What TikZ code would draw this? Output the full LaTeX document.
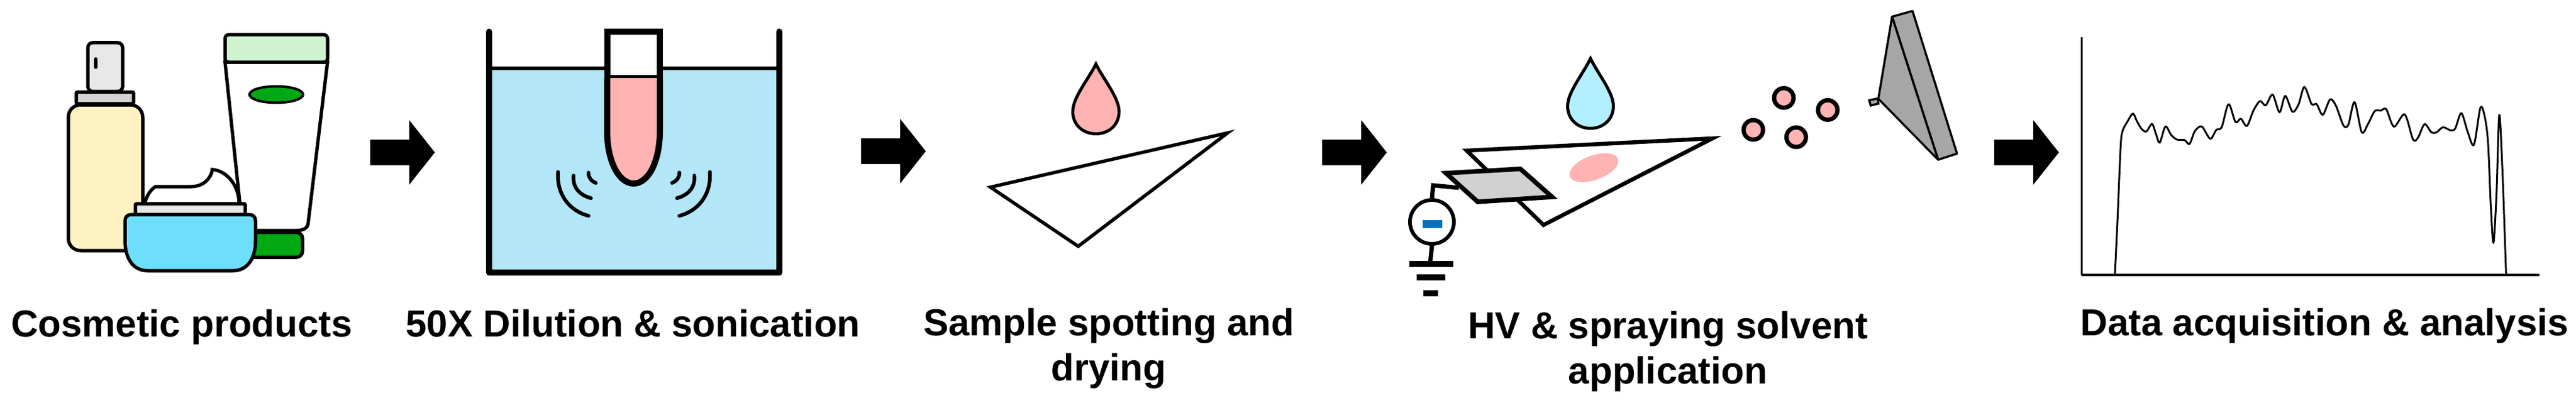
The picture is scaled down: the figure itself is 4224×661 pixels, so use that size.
\documentclass[tikz,border=0pt]{standalone}
\usepackage{fontspec}
\setmainfont{Liberation Sans}
\definecolor{creamyellow}{HTML}{FFF2C2}
\definecolor{lightgreen}{HTML}{CFF2D0}
\definecolor{tubegreen}{HTML}{00A814}
\definecolor{jarblue}{HTML}{6EDFFB}
\definecolor{bathblue}{HTML}{B3E6F7}
\definecolor{dropblue}{HTML}{B3F0FF}
\definecolor{samplepink}{HTML}{FFB3B3}
\definecolor{minusblue}{HTML}{0070C0}
\newcommand{\StepArrow}[2]{%
    \fill [shift={(#1,#2)}] (0,-21) -- (64,-21) -- (64,-53) -- (106,0) -- (64,53) -- (64,21) -- (0,21) -- cycle;%
}
\newcommand{\Drop}[4]{% centre x, tip y, half width, fill
    \draw [outline, line width=5pt, fill=#4] (#1,#2) .. controls (#1-0.32*#3,#2+25) and (#1-#3,#2+55) .. (#1-#3,#2+78)
        .. controls (#1-#3,#2+100) and (#1-0.55*#3,#2+114.5) .. (#1,#2+114.5)
        .. controls (#1+0.55*#3,#2+114.5) and (#1+#3,#2+100) .. (#1+#3,#2+78)
        .. controls (#1+#3,#2+55) and (#1+0.32*#3,#2+25) .. (#1,#2) -- cycle;%
}
\tikzset{
    outline/.style={draw=black, line width=5.5pt},
    steplabel/.style={font=\fontsize{61.8}{74}\selectfont\bfseries, align=center, anchor=base, inner sep=0pt},
    droplet/.style={circle, draw=black, line width=7pt, fill=samplepink, minimum size=32pt, inner sep=0pt},
    wire/.style={draw=black, line width=7pt},
    groundbar/.style={draw=black, line width=10pt},
}

\begin{document}
\begin{tikzpicture}[x=1pt, y=-1pt]
    \useasboundingbox [fill=white] (0,0) rectangle (4224,661);
    % Draw spray bottle
    \draw [outline, fill=black!9, rounded corners=8pt] (144,150) -- (144,70) -- (201,70) -- (201,150) -- cycle; % nozzle
    \draw [outline, line width=6pt, line cap=round] (157,97) -- (157,110); % nozzle slot
    \draw [outline, fill=black!17, rounded corners=2pt] (125,170) -- (125,151) -- (219,151) -- (219,170) -- cycle; % collar
    \draw [outline, fill=creamyellow, rounded corners=20pt] (112,172) rectangle (234,411); % body
    % Draw tube
    \draw [outline, fill=tubegreen, rounded corners=10pt] (410,381) -- (496,381) -- (496,422) -- (410,422); % tube end
    \draw [outline, fill=white] (369,102) -- (398,378) -- (487,378) .. controls (497,378) and (504,374) .. (505,368) -- (537,102) -- cycle; % tube body
    \draw [outline, fill=lightgreen, rounded corners=6pt] (369,102) -- (369,57) -- (537,57) -- (537,102) -- cycle; % tube cap
    \draw [outline, line width=4pt, fill=tubegreen] (453,155) ellipse [x radius=44, y radius=13.5]; % tube label
    % Draw cream jar
    \draw [outline, fill=white] (237,334) .. controls (241,320) and (247,311) .. (255,306) -- (314,306)
        .. controls (332,306) and (346,294) .. (348,278) .. controls (372,280) and (392,304) .. (392,334); % cream
    \draw [outline, fill=black!9, rounded corners=2pt] (222,352) -- (222,334) -- (402,334) -- (402,352) -- cycle; % lid
    \draw [outline, fill=jarblue] (205,362) .. controls (205,356) and (209,352) .. (215,352) -- (409,352)
        .. controls (415,352) and (419,356) .. (419,362) -- (419,395) .. controls (419,425) and (405,444) .. (382,444)
        -- (242,444) .. controls (219,444) and (205,425) .. (205,395) -- cycle; % jar
    \StepArrow{607}{250}
    % Draw bath and sample tube
    \fill [bathblue] (802,112) rectangle (1277.5,447); % water
    \draw [outline] (802,112) -- (1277.5,112); % water level
    \draw [outline, line width=10pt, line cap=round, line join=round] (802,52) -- (802,447) -- (1277.5,447) -- (1277.5,52); % bath walls
    \draw [outline, line width=10pt, fill=white] (995.5,128) -- (995.5,52.5) -- (1082,52.5) -- (1082,128) -- cycle; % tube top
    \draw [outline, line width=10pt, fill=samplepink] (995.5,128) -- (995.5,215) .. controls (995.5,265) and (1015,301) .. (1039,301)
        .. controls (1063,301) and (1082,265) .. (1082,215) -- (1082,128); % tube bottom
    \foreach \s in {1,-1} {
        \begin{scope}[shift={(1039.5,0)}, xscale=\s, line width=6pt, line cap=round]
            \draw (-124.5,282) .. controls (-127,320) and (-105,346) .. (-74.5,354); % outer wave
            \draw (-99,288) .. controls (-101,306) and (-90,320) .. (-70.5,325); % middle wave
            \draw (-74.5,283) .. controls (-75,291) and (-70,297) .. (-62.5,300); % inner wave
        \end{scope}
    }
    \StepArrow{1412}{248}
    % Draw spot step
    \Drop{1797}{105}{38}{samplepink}
    \draw [outline] (1624,307) -- (2013,218) -- (1768,404) -- cycle; % plate
    \StepArrow{2168}{250}
    % Draw HV and spray step
    \Drop{2608}{96}{37.5}{dropblue}
    \draw [outline, line width=6.5pt, fill=white] (2405,247) -- (2808,227) -- (2531,369) -- cycle; % plate
    \fill [samplepink] (2613.5,275) ellipse [x radius=42, y radius=20, rotate=20]; % spot
    \draw [outline, line width=7.5pt, fill=black!18] (2371,284) -- (2493,277) -- (2545,323) -- (2423,331) -- cycle; % clip
    \node (hvsource) [circle, draw=black, line width=6pt, fill=white, minimum size=72pt, inner sep=0pt] at (2348,364) {};
    \fill [minusblue] (2333,361) rectangle (2364.5,373.5); % minus sign
    \coordinate (clippin) at (2392,308);
    \coordinate (wirebend) at (2350,304);
    \coordinate (groundpin) at (2345,432);
    \draw [wire] (clippin) -- (wirebend) -- (hvsource.north);
    \draw [wire] (hvsource.south) -- (groundpin);
    \draw [groundbar] (2310.5,432.5) -- (2383,432.5);
    \draw [groundbar] (2323,455) -- (2370,455);
    \draw [groundbar] (2334,480.5) -- (2358,480.5);
    % Draw droplets
    \node (dropleta) [droplet] at (2925,160.6) {};
    \node (dropletb) [droplet] at (2997,180.4) {};
    \node (dropletc) [droplet] at (2875,213) {};
    \node (dropletd) [droplet] at (2945.3,225) {};
    % Draw inlet
    \draw [outline, line width=3.5pt, fill=black!35] (3065,164.5) -- (3079,161.5) -- (3080,170) -- (3067.5,173) -- cycle; % capillary
    \draw [outline, line width=3.5pt, fill=black!35, line join=round] (3102.5,27.4) -- (3136,18) -- (3209,252) -- (3178,262) -- cycle; % back
    \draw [outline, line width=3.5pt, fill=black!35, line join=round] (3102.5,27.4) -- (3080,162) -- (3178,262) -- cycle; % cone
    \StepArrow{3270}{250}
    % Draw spectrum
    \draw [line width=3pt] (3413,61) -- (3413,451);
    \draw [line width=4pt] (3413,451) -- (4164,451);
    \begin{scope}[shift={(3240,0)}, x=0.6277pt, y=-0.4216pt]
        \draw [line width=3pt, line join=round] plot [smooth, tension=0.5] coordinates {
            (363,1070) (370,850) (378,570) (383,510) (395,475) (410,442) (420,470) (432,500) (445,512) (460,482)
            (470,520) (480,555) (495,492) (510,525) (525,543) (545,545) (558,560) (572,510) (590,492) (612,540)
            (628,505) (642,495) (660,405) (678,475) (692,462) (708,490) (725,430) (742,393) (757,410) (775,368)
            (793,437) (808,373) (827,435) (843,405) (858,338) (877,405) (890,405) (906,447) (925,387) (940,410)
            (960,488) (973,485) (989,397) (1008,515) (1025,480) (1042,432) (1058,430) (1072,425) (1092,493) (1120,445)
            (1142,543) (1155,535) (1172,483) (1190,515) (1203,515) (1220,495) (1240,507) (1252,500) (1268,440) (1285,515)
            (1301,563) (1318,418) (1330,460) (1338,560) (1345,800) (1352,945) (1360,750) (1367,447) (1375,650) (1385,1070)};
    \end{scope}
    % Draw labels
    \node (cosmetic) [steplabel] at (298,552) {Cosmetic products};
    \node (dilution) [steplabel] at (1038,552) {50X Dilution \& sonication};
    \node (spotting) [steplabel] at (1818,624) {Sample spotting and\\drying};
    \node (spraying) [steplabel] at (2735,629) {HV \& spraying solvent\\application};
    \node (analysis) [steplabel] at (3812,550) {Data acquisition \& analysis};
\end{tikzpicture}
\end{document}
